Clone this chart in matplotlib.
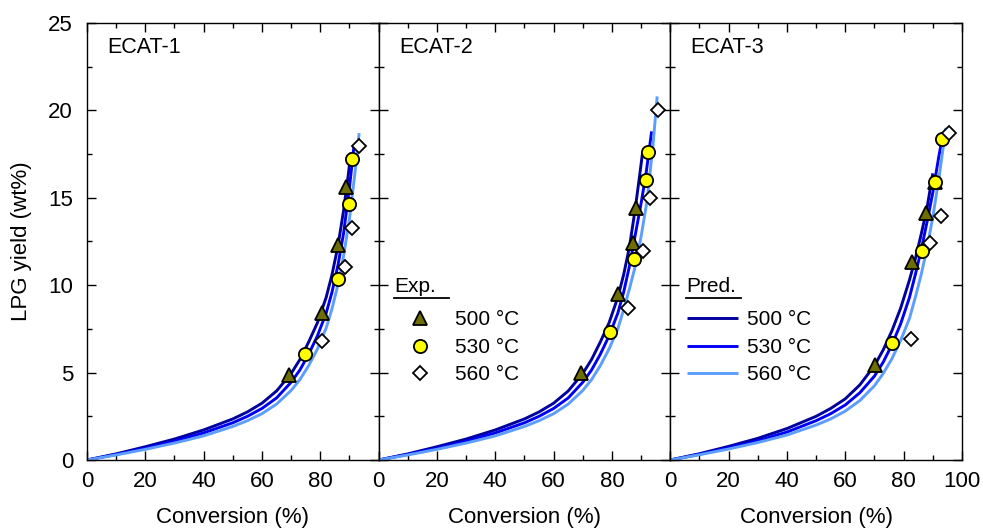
import numpy as np
import matplotlib
matplotlib.use('Agg')
import matplotlib.pyplot as plt
from matplotlib.ticker import MultipleLocator

plt.rcParams['font.family'] = ['Liberation Sans', 'DejaVu Sans']

panels = ['ECAT-1', 'ECAT-2', 'ECAT-3']
temps = ['500 °C', '530 °C', '560 °C']

# experimental points: conversion (%) and LPG yield (wt%)
exp_x = {
    'ECAT-1': [[69.2, 80.6, 86.0, 88.9], [74.9, 86.1, 89.8, 90.9], [80.6, 88.4, 90.9, 93.2]],
    'ECAT-2': [[69.4, 82.0, 87.2, 88.1], [79.4, 87.4, 91.7, 92.5], [85.5, 90.7, 93.1, 95.8]],
    'ECAT-3': [[70.2, 83.0, 87.7, 90.6], [75.9, 86.3, 90.8, 93.1], [82.5, 89.1, 92.8, 95.6]],
}
exp_y = {
    'ECAT-1': [[4.86, 8.39, 12.3, 15.64], [6.05, 10.35, 14.65, 17.2], [6.8, 11.06, 13.3, 17.98]],
    'ECAT-2': [[5.0, 9.47, 12.4, 14.4], [7.3, 11.5, 16.0, 17.64], [8.68, 11.97, 14.97, 20.0]],
    'ECAT-3': [[5.45, 11.35, 14.15, 15.9], [6.71, 11.97, 15.9, 18.35], [6.92, 12.43, 13.96, 18.72]],
}

# model predictions (500, 530, 560 °C)
pred_x = {
    'ECAT-1': [[0, 10, 20, 30, 40, 50, 55, 60, 65, 70, 73, 76, 79, 82, 84, 86, 88, 89.5, 90.5],
               [0, 10, 20, 30, 40, 50, 55, 60, 65, 70, 73, 76, 79, 82, 84, 86, 88, 90, 91.5],
               [0, 10, 20, 30, 40, 50, 55, 60, 65, 70, 73, 76, 79, 82, 84, 86, 88, 90, 92, 93.3]],
    'ECAT-2': [[0, 10, 20, 30, 40, 50, 55, 60, 65, 70, 73, 76, 79, 82, 84, 86, 88, 89.5, 90.5],
               [0, 10, 20, 30, 40, 50, 55, 60, 65, 70, 73, 76, 79, 82, 84, 86, 88, 90, 91.7, 92.8, 93.6],
               [0, 10, 20, 30, 40, 50, 55, 60, 65, 70, 73, 76, 79, 82, 84, 86, 88, 90, 92, 94, 95.5]],
    'ECAT-3': [[0, 10, 20, 30, 40, 50, 55, 60, 65, 70, 73, 76, 79, 82, 84, 86, 88, 90],
               [0, 10, 20, 30, 40, 50, 55, 60, 65, 70, 73, 76, 79, 82, 84, 86, 88, 90, 92, 93.1],
               [0, 10, 20, 30, 40, 50, 55, 60, 65, 70, 73, 76, 79, 82, 84, 86, 88, 90, 92, 93.5, 94.5]],
}
pred_y = {
    'ECAT-1': [[0, .35, .76, 1.2, 1.72, 2.35, 2.75, 3.25, 3.95, 4.95, 5.75, 6.75, 7.85, 9.3, 10.6, 12.2, 14.3, 16.2, 17.6],
               [0, .32, .68, 1.08, 1.55, 2.13, 2.5, 2.95, 3.55, 4.45, 5.15, 6.05, 7.1, 8.4, 9.6, 11.1, 13.0, 15.6, 17.9],
               [0, .29, .61, .97, 1.38, 1.92, 2.25, 2.65, 3.2, 3.98, 4.6, 5.4, 6.35, 7.55, 8.65, 10.0, 11.7, 13.8, 16.6, 18.7]],
    'ECAT-2': [[0, .35, .76, 1.2, 1.72, 2.35, 2.75, 3.25, 3.95, 4.95, 5.75, 6.75, 7.85, 9.3, 10.6, 12.2, 14.4, 16.3, 17.6],
               [0, .32, .68, 1.08, 1.55, 2.13, 2.5, 2.95, 3.55, 4.45, 5.15, 6.05, 7.1, 8.4, 9.6, 11.1, 12.9, 14.7, 16.4, 17.8, 18.8],
               [0, .29, .61, .97, 1.38, 1.92, 2.25, 2.65, 3.2, 3.98, 4.6, 5.4, 6.35, 7.5, 8.6, 9.8, 11.1, 12.8, 14.8, 17.9, 20.8]],
    'ECAT-3': [[0, .36, .78, 1.24, 1.8, 2.5, 2.95, 3.5, 4.3, 5.4, 6.3, 7.4, 8.7, 10.3, 11.5, 12.9, 14.4, 16.4],
               [0, .33, .7, 1.1, 1.6, 2.25, 2.65, 3.15, 3.85, 4.8, 5.6, 6.6, 7.8, 9.3, 10.6, 12.0, 13.6, 15.3, 17.3, 18.3],
               [0, .3, .63, 1.0, 1.43, 2.0, 2.35, 2.8, 3.4, 4.25, 4.95, 5.8, 6.85, 8.1, 9.3, 10.6, 12.1, 13.9, 16.0, 17.8, 19.0]],
}

line_colors = ['#00009c', '#0000f5', '#5c9dff']
marker_styles = [dict(marker='^', ms=10.5, mfc='#6e6e00'),
                 dict(marker='o', ms=9.5, mfc='#ffff00'),
                 dict(marker='D', ms=7, mfc='white')]

fig, axes = plt.subplots(1, 3, figsize=(9.83, 5.31), dpi=100, sharey=True)
plt.subplots_adjust(left=0.0885, right=0.9786, bottom=0.1337, top=0.9567, wspace=0)

for i, (ax, name) in enumerate(zip(axes, panels)):
    lines = []
    for j in range(3):
        ln, = ax.plot(pred_x[name][j], pred_y[name][j], color=line_colors[j], lw=2.1,
                      solid_capstyle='butt', solid_joinstyle='round',
                      label=temps[j], zorder=2)
        lines.append(ln)
    marks = []
    for j in range(3):
        mk, = ax.plot(exp_x[name][j], exp_y[name][j], ls='none', mec='black', mew=1.3,
                      label=temps[j], zorder=3, **marker_styles[j])
        marks.append(mk)

    ax.set_xlim(0, 100)
    ax.set_ylim(0, 25)
    ax.xaxis.set_minor_locator(MultipleLocator(10))
    ax.yaxis.set_minor_locator(MultipleLocator(2.5))
    ax.set_xticks([0, 20, 40, 60, 80, 100],
                  ['0', '20', '40', '60', '80', '100' if i == 2 else ''])
    ax.set_yticks([0, 5, 10, 15, 20, 25])
    ax.tick_params(which='both', direction='in', top=True, right=True,
                   labelsize=16, width=1)
    ax.tick_params(axis='x', which='major', length=6.5, pad=8)
    ax.tick_params(axis='y', which='major', length=6.5, pad=10)
    ax.tick_params(which='minor', length=3.5)
    for sp in ax.spines.values():
        sp.set_linewidth(1)
    ax.set_xlabel('Conversion (%)', fontsize=16, labelpad=11)
    ax.text(0.069, 0.945, name, transform=ax.transAxes, fontsize=15.5,
            ha='left', va='center')

    if i in (1, 2):
        handles = marks if i == 1 else lines
        title = 'Exp.' if i == 1 else 'Pred.'
        x0, x1 = (0.052, 0.240) if i == 1 else (0.055, 0.244)
        ax.legend(handles=handles, loc='upper left', bbox_to_anchor=(0.02, 0.366),
                  frameon=False, fontsize=15, handlelength=2.45, handletextpad=0.45,
                  labelspacing=0.4, borderpad=0)
        ax.text(x0, 0.396, title, transform=ax.transAxes, fontsize=15,
                ha='left', va='center')
        ax.plot([x0, x1], [0.370, 0.370], transform=ax.transAxes,
                color='black', lw=1.3, clip_on=False)

axes[0].set_ylabel('LPG yield (wt%)', fontsize=16, labelpad=12)

fig.savefig('out.png', dpi=100)
